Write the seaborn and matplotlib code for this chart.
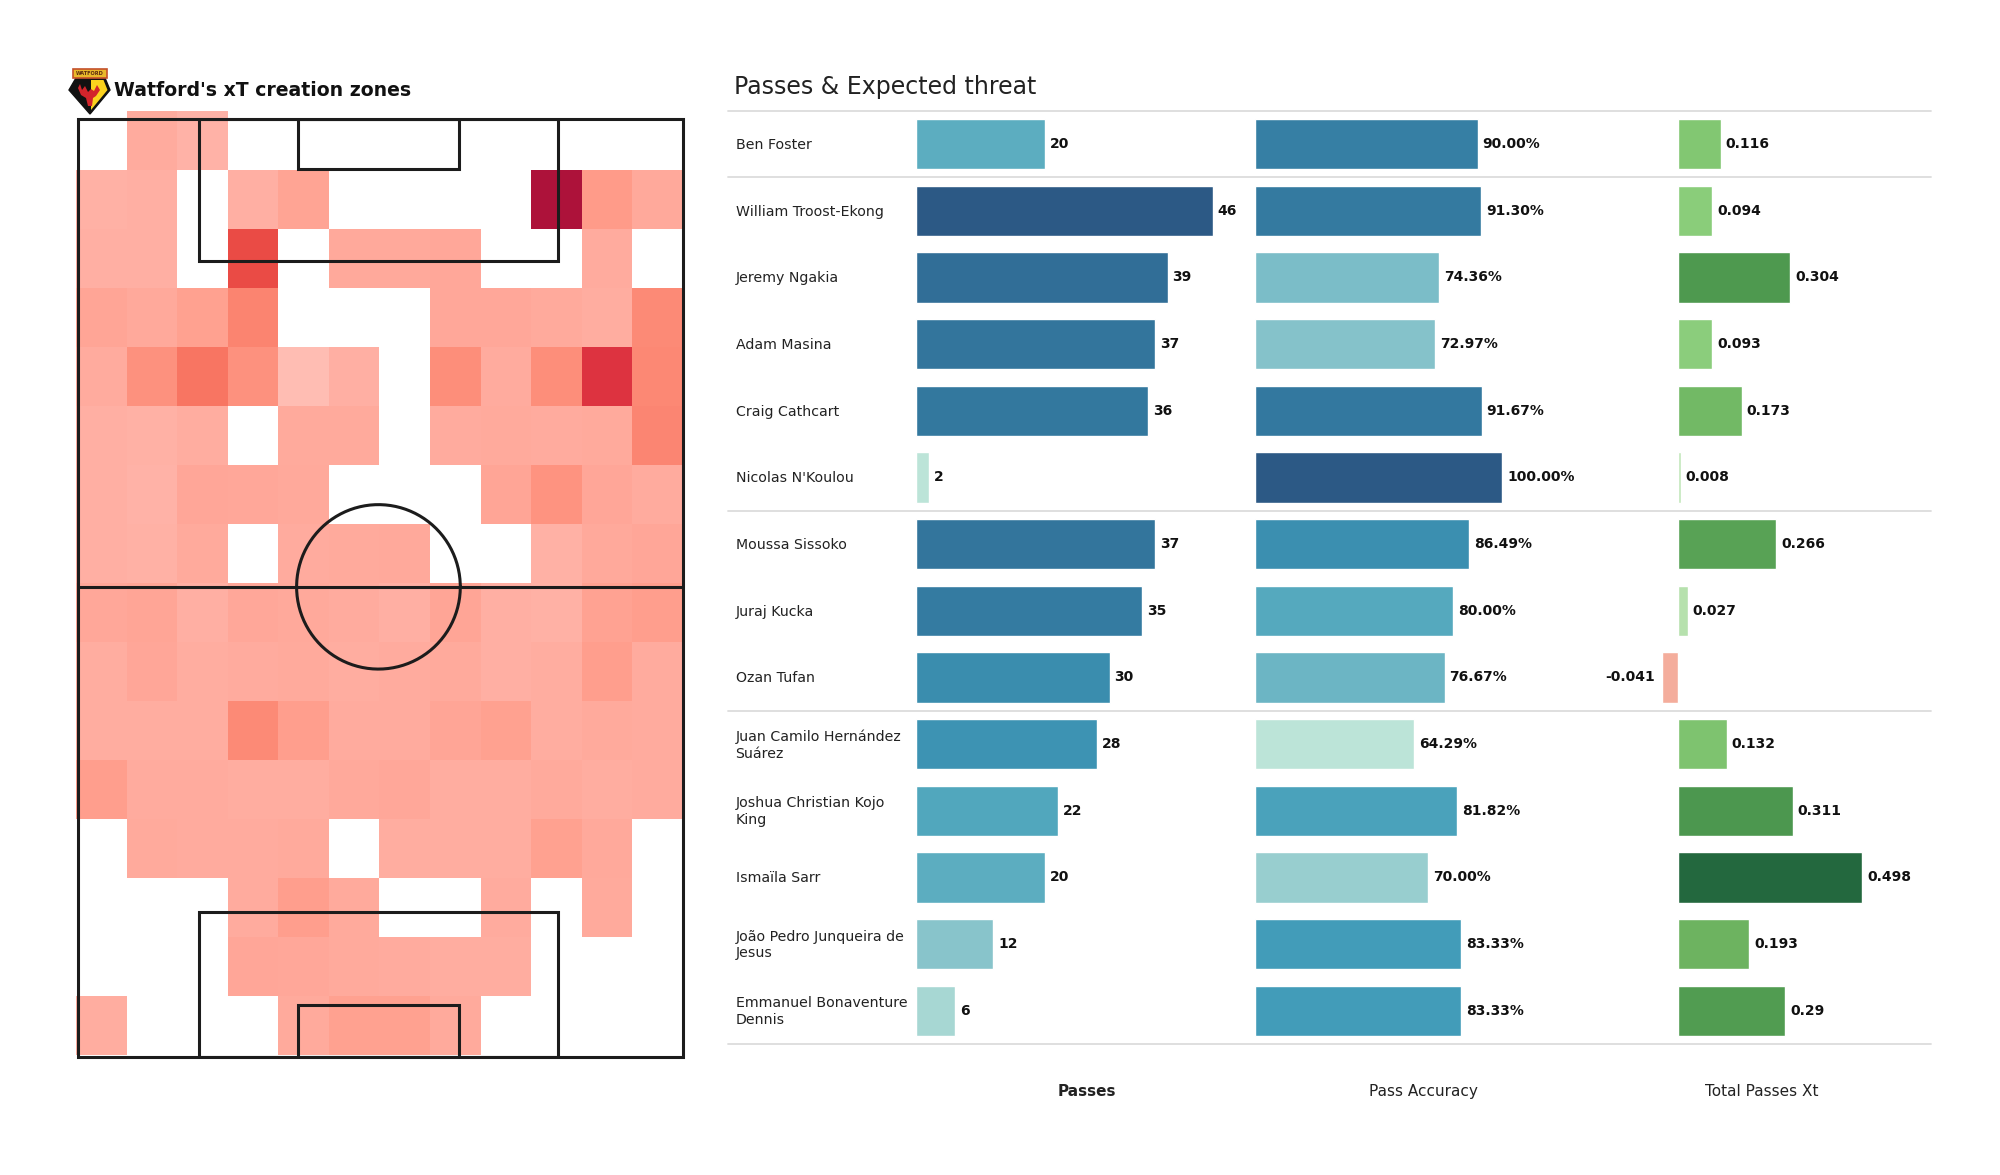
import numpy as np
import pandas as pd
import matplotlib
matplotlib.use("Agg")
import matplotlib.pyplot as plt
from matplotlib.colors import LinearSegmentedColormap
from matplotlib.patches import Polygon, Rectangle
import seaborn as sns

players = ["Ben Foster", "William Troost-Ekong", "Jeremy Ngakia", "Adam Masina", "Craig Cathcart",
           "Nicolas N'Koulou", "Moussa Sissoko", "Juraj Kucka", "Ozan Tufan",
           "Juan Camilo Hernández\nSuárez", "Joshua Christian Kojo\nKing", "Ismaïla Sarr",
           "João Pedro Junqueira de\nJesus", "Emmanuel Bonaventure\nDennis"]
passes = [20, 46, 39, 37, 36, 2, 37, 35, 30, 28, 22, 20, 12, 6]
accuracy = [90.00, 91.30, 74.36, 72.97, 91.67, 100.00, 86.49, 80.00, 76.67, 64.29, 81.82, 70.00, 83.33, 83.33]
xt = [0.116, 0.094, 0.304, 0.093, 0.173, 0.008, 0.266, 0.027, -0.041, 0.132, 0.311, 0.498, 0.193, 0.29]
headers = ["Passes", "Pass Accuracy", "Total Passes Xt"]
n = np.nan
zones = [
    [n, .10, .06, n, n, n, n, n, n, n, n, n],
    [.07, .08, n, .08, .16, n, n, n, n, 1.0, .22, .12],
    [.08, .08, n, .62, n, .12, .12, .13, n, n, .10, n],
    [.15, .12, .18, .35, n, n, n, .13, .13, .11, .09, .32],
    [.10, .28, .42, .28, 0.0, .08, n, .30, .10, .30, .72, .33],
    [.08, .07, .09, n, .11, .11, n, .10, .11, .10, .11, .34],
    [.08, .06, .14, .13, .12, n, n, n, .15, .27, .14, .10],
    [.08, .07, .11, n, .10, .11, .12, n, n, .07, .12, .14],
    [.13, .15, .08, .13, .12, .10, .08, .15, .08, .07, .17, .20],
    [.09, .14, .09, .10, .11, .09, .10, .11, .08, .09, .20, .10],
    [.09, .09, .09, .32, .20, .10, .10, .15, .18, .09, .11, .10],
    [.20, .10, .10, .09, .09, .12, .13, .09, .09, .11, .09, .10],
    [n, .11, .10, .10, .11, n, .09, .09, .09, .18, .12, n],
    [n, n, n, .10, .20, .11, n, n, .10, n, .11, n],
    [n, n, n, .14, .13, .11, .10, .09, .09, n, n, n],
    [.09, n, n, n, .11, .18, .18, .11, n, n, n, n],
]

W, H = 2000, 1175
sns.set_theme(style="white")
plt.rcParams["font.family"] = ["DejaVu Sans"]
fig = plt.figure(figsize=(W / 100, H / 100), dpi=100, facecolor="white")


def px_axes(x0, y0, x1, y1, **kw):
    return fig.add_axes([x0 / W, 1 - y1 / H, (x1 - x0) / W, (y1 - y0) / H], **kw)


heat_cmap = LinearSegmentedColormap.from_list("xt", [
    (0.0, "#FFBDB3"), (0.1, "#FFAB9E"), (0.2, "#FF9E8D"), (0.3, "#FD8E7A"), (0.42, "#F87562"),
    (0.62, "#EA4B45"), (0.72, "#DD3340"), (1.0, "#AD123A")])
ax_h = px_axes(76, 111, 683, 1055)
sns.heatmap(pd.DataFrame(zones), cmap=heat_cmap, vmin=0, vmax=1, cbar=False, ax=ax_h,
            xticklabels=False, yticklabels=False, linewidths=0)
ax_h.axis("off")

# pitch outline, in metres
ax_p = px_axes(78, 118.5, 683, 1057, facecolor="none")
ax_p.set_xlim(0, 68)
ax_p.set_ylim(105, 0)
ax_p.axis("off")
pc = "#1c1c1c"
plw = 2.2
cx = 33.77
box_w, box_d, six_w, six_d, rad = 40.3, 15.9, 18.1, 5.7, 9.2
box_d_low, six_d_low = 16.2, 5.85
ax_p.add_patch(Rectangle((0, 0), 68, 105, fill=False, ec=pc, lw=plw, clip_on=False))
ax_p.plot([0, 68], [52.4, 52.4], color=pc, lw=plw)
ax_p.add_patch(Rectangle((cx - box_w / 2, 0), box_w, box_d, fill=False, ec=pc, lw=plw))
ax_p.add_patch(Rectangle((cx - six_w / 2, 0), six_w, six_d, fill=False, ec=pc, lw=plw))
ax_p.add_patch(Rectangle((cx - box_w / 2, 105 - box_d_low), box_w, box_d_low, fill=False, ec=pc, lw=plw))
ax_p.add_patch(Rectangle((cx - six_w / 2, 105 - six_d_low), six_w, six_d_low, fill=False, ec=pc, lw=plw))
theta = np.linspace(0, 2 * np.pi, 200)
ax_p.plot(cx + rad * np.cos(theta), 52.4 + rad * np.sin(theta), color=pc, lw=plw)

# row framework
row_top, row_h = 110.7, 66.67
rows = len(players)
row_bottom = row_top + rows * row_h
ax_bg = px_axes(728, row_top, 1931, row_bottom, facecolor="none")
ax_bg.set_xlim(728, 1931)
ax_bg.set_ylim(rows - 0.5, -0.5)
ax_bg.axis("off")
for b in [-0.5, 0.5, 5.5, 8.5, 13.5]:
    ax_bg.axhline(b, color="#dcdcdc", lw=1.3, clip_on=False)
for i, p in enumerate(players):
    ax_bg.text(735.5, i + 0.015, p, fontsize=10.2, color="#222222", va="center", ha="left", linespacing=1.25)

blue = LinearSegmentedColormap.from_list("bt", [
    (0, "#BCE4D8"), (.25, "#83C1CA"), (.45, "#52A8BD"), (.55, "#3F9AB8"), (.75, "#347BA1"), (1, "#2C5985")])
green = LinearSegmentedColormap.from_list("gr", [
    (0, "#C7E9C0"), (.2, "#86CB76"), (.4, "#6BB25F"), (.6, "#4F9A50"), (1, "#23683E")])


def norm_col(v, lo, hi, cmap):
    return matplotlib.colors.to_hex(cmap((v - lo) / (hi - lo)))


df = pd.DataFrame({"player": players, "passes": passes, "accuracy": accuracy, "xt": xt})
specs = [
    ("passes", (916.0, 1238.5), (0, 50), {p: norm_col(v, 2, 46, blue) for p, v in zip(players, passes)},
     [f"{v}" for v in passes]),
    ("accuracy", (1255.0, 1527.0), (0, 110), {p: norm_col(v, 64.29, 100, blue) for p, v in zip(players, accuracy)},
     [f"{v:.2f}%" for v in accuracy]),
    ("xt", (1640.6, 1899.8), (-0.1, 0.6),
     {p: ("#F4AD9C" if v < 0 else norm_col(v, 0, 0.498, green)) for p, v in zip(players, xt)},
     [f"{v:g}" for v in xt]),
]
for col, (x0, x1), lim, pal, labels in specs:
    ax = px_axes(x0, row_top, x1, row_bottom, facecolor="none")
    sns.barplot(data=df, y="player", x=col, hue="player", palette=pal, order=players, hue_order=players,
                legend=False, dodge=False, width=0.755, saturation=1, ax=ax)
    ax.set_xlim(*lim)
    ax.set_ylim(rows - 0.5, -0.5)
    ax.axis("off")
    for i, (v, lab) in enumerate(zip(df[col], labels)):
        if v < 0:
            ax.annotate(lab, (v, i), xytext=(-7, 0), textcoords="offset pixels", ha="right", va="center",
                        fontsize=10, fontweight="bold", color="#111111")
        else:
            ax.annotate(lab, (v, i), xytext=(5, 0), textcoords="offset pixels", ha="left", va="center",
                        fontsize=10, fontweight="bold", color="#111111")

# overlay in figure pixels
ax_o = fig.add_axes([0, 0, 1, 1], facecolor="none")
ax_o.set_xlim(0, W)
ax_o.set_ylim(H, 0)
ax_o.axis("off")
ax_o.text(113.5, 90, "Watford's xT creation zones", fontsize=13.55, fontweight="bold", color="#111111",
          ha="left", va="center")
ax_o.text(734, 87, "Passes & Expected threat", fontsize=17, color="#222222", ha="left", va="center")
for x, t, w in zip([1086.5, 1423.7, 1761.6], headers, ["bold", "normal", "normal"]):
    ax_o.text(x, 1091.5, t, fontsize=11, fontweight=w, color="#222222", ha="center", va="center")

# crest
ax_o.add_patch(Polygon([(69, 90), (76, 78), (105, 78), (110, 90), (90, 114)],
                       closed=True, fc="#111111", ec="#111111", lw=1))
ax_o.add_patch(Polygon([(91, 80), (103.5, 80), (107.5, 90), (91, 110)], closed=True, fc="#FBD21E", ec="none"))
ax_o.add_patch(Polygon([(78, 88), (80, 84), (82, 90), (85, 86), (88, 92), (91, 89), (94, 91), (97, 85), (100, 90),
                        (96, 96), (93, 98), (92, 106), (88, 106), (86, 98), (81, 95)],
                       closed=True, fc="#D3242B", ec="none"))
ax_o.add_patch(Rectangle((72.5, 68.5), 34.5, 9.5, fc="#E9B92A", ec="#C4502A", lw=1.2))
ax_o.text(89.7, 73.3, "WATFORD", fontsize=3.6, fontweight="bold", color="#5a2a10", ha="center", va="center")

fig.savefig("out.png", dpi=100, facecolor="white")
